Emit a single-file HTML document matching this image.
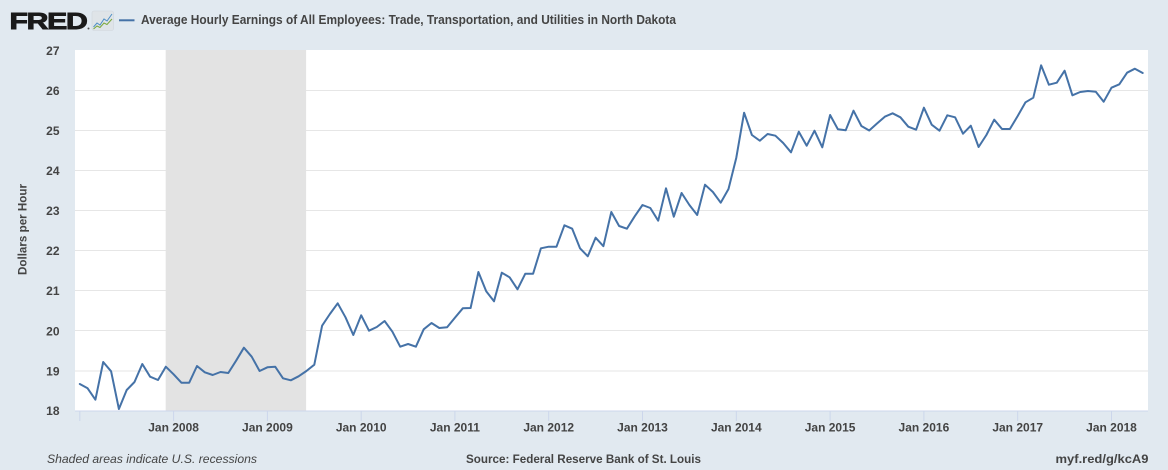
<!DOCTYPE html>
<html><head><meta charset="utf-8"><style>
html,body{margin:0;padding:0;background:#e1e9f0;}
svg{display:block;font-family:"Liberation Sans",Arial,sans-serif;}
</style></head><body>
<svg width="1168" height="470" viewBox="0 0 1168 470" xmlns="http://www.w3.org/2000/svg">
<rect x="0" y="0" width="1168" height="470" fill="#e1e9f0"/>
<!-- header -->
<text x="9.5" y="29" font-size="23" font-weight="bold" fill="#1a1a1a" stroke="#1a1a1a" stroke-width="0.9" textLength="77" lengthAdjust="spacingAndGlyphs" style="letter-spacing:-1px">FRED</text>
<circle cx="88.5" cy="28.5" r="1" fill="#555"/>
<rect x="92" y="11" width="21.5" height="19.5" rx="2" fill="#dfe4e8" stroke="#cfd6dc" stroke-width="0.6"/>
<polyline points="93.5,27 97,23 100,25 104,19 107,21 112,14" fill="none" stroke="#4d8ec5" stroke-width="1"/>
<polyline points="93.5,29 97,26 100,27.5 104,23 107,24.5 112,19" fill="none" stroke="#7aa83c" stroke-width="1"/>
<line x1="119" y1="20.3" x2="134.5" y2="20.3" stroke="#4572a7" stroke-width="2"/>
<text x="141" y="24" font-size="12.5" font-weight="bold" fill="#444" textLength="535" lengthAdjust="spacingAndGlyphs">Average Hourly Earnings of All Employees: Trade, Transportation, and Utilities in North Dakota</text>
<!-- plot area -->
<rect x="75" y="50" width="1073" height="361" fill="#ffffff"/>
<g stroke="#e6e6e6" stroke-width="1">
<line x1="75" x2="1148" y1="90.5" y2="90.5"/>
<line x1="75" x2="1148" y1="130.5" y2="130.5"/>
<line x1="75" x2="1148" y1="170.5" y2="170.5"/>
<line x1="75" x2="1148" y1="210.5" y2="210.5"/>
<line x1="75" x2="1148" y1="250.5" y2="250.5"/>
<line x1="75" x2="1148" y1="290.5" y2="290.5"/>
<line x1="75" x2="1148" y1="330.5" y2="330.5"/>
<line x1="75" x2="1148" y1="371" y2="371"/>
</g>
<rect x="165.7" y="50" width="140.4" height="361" fill="#e3e3e3"/>
<!-- x axis -->
<line x1="75" x2="1148" y1="411" y2="411" stroke="#ccd6eb" stroke-width="1"/>
<g stroke="#ccd6eb" stroke-width="1">
<line x1="79.8" x2="79.8" y1="411" y2="421"/>
<line x1="173.6" x2="173.6" y1="411" y2="421"/>
<line x1="267.4" x2="267.4" y1="411" y2="421"/>
<line x1="361.2" x2="361.2" y1="411" y2="421"/>
<line x1="454.9" x2="454.9" y1="411" y2="421"/>
<line x1="548.7" x2="548.7" y1="411" y2="421"/>
<line x1="642.5" x2="642.5" y1="411" y2="421"/>
<line x1="736.3" x2="736.3" y1="411" y2="421"/>
<line x1="830.1" x2="830.1" y1="411" y2="421"/>
<line x1="923.9" x2="923.9" y1="411" y2="421"/>
<line x1="1017.7" x2="1017.7" y1="411" y2="421"/>
<line x1="1111.5" x2="1111.5" y1="411" y2="421"/>
</g>
<g font-size="12" font-weight="bold" fill="#444" text-anchor="middle">
<text x="173.6" y="431.5">Jan 2008</text>
<text x="267.4" y="431.5">Jan 2009</text>
<text x="361.2" y="431.5">Jan 2010</text>
<text x="454.9" y="431.5">Jan 2011</text>
<text x="548.7" y="431.5">Jan 2012</text>
<text x="642.5" y="431.5">Jan 2013</text>
<text x="736.3" y="431.5">Jan 2014</text>
<text x="830.1" y="431.5">Jan 2015</text>
<text x="923.9" y="431.5">Jan 2016</text>
<text x="1017.7" y="431.5">Jan 2017</text>
<text x="1111.5" y="431.5">Jan 2018</text>
</g>
<!-- y axis labels -->
<g font-size="12" font-weight="bold" fill="#444" text-anchor="end">
<text x="59.5" y="55">27</text>
<text x="59.5" y="95">26</text>
<text x="59.5" y="135">25</text>
<text x="59.5" y="175">24</text>
<text x="59.5" y="215">23</text>
<text x="59.5" y="255">22</text>
<text x="59.5" y="295">21</text>
<text x="59.5" y="335.5">20</text>
<text x="59.5" y="375.5">19</text>
<text x="59.5" y="415">18</text>
</g>
<text transform="translate(26.5,229.5) rotate(-90)" font-size="12" font-weight="bold" fill="#444" text-anchor="middle" textLength="91" lengthAdjust="spacingAndGlyphs">Dollars per Hour</text>
<!-- series -->
<polyline fill="none" stroke="#4572a7" stroke-width="2" stroke-linejoin="round" stroke-linecap="round" points="
79.8,384 87.6,388.3 95.4,399.7 103.2,362 111.1,371.3 118.9,409 126.7,390 134.5,382 142.3,364 150.1,376.7 158.0,380 165.8,366.7
173.6,374.3 181.4,382.7 189.2,382.7 197.0,366 204.8,372.3 212.7,375 220.5,372 228.3,373 236.1,360.7 243.9,347.7 251.7,356.7 259.6,371
267.4,367.3 275.2,366.7 283.0,378.3 290.8,380.3 298.6,376.3 306.4,371 314.3,364.7 322.1,325.7 329.9,314 337.7,303.3 345.5,317.3 353.3,335
361.2,315.3 369.0,330.7 376.8,327 384.6,321 392.4,331.7 400.2,346.7 408.1,344 415.9,346.7 423.7,329.3 431.5,323 439.3,328 447.1,327.3
454.9,317.7 462.8,308.3 470.6,308 478.4,272 486.2,291.3 494.0,301.3 501.8,272.7 509.6,277.3 517.5,289.3 525.3,273.7 533.1,273.7 540.9,248.3
548.7,246.7 556.5,246.7 564.4,225.3 572.2,228.7 580.0,248.3 587.8,256.3 595.6,237.7 603.4,246.2 611.3,212 619.1,226 626.9,228.7 634.7,216.3
642.5,205 650.3,208 658.2,220.7 666.0,188.3 673.8,216.7 681.6,193 689.4,205 697.2,215 705.0,184.7 712.9,192 720.7,202.7 728.5,189
736.3,157.7 744.1,112.7 751.9,135 759.8,140.7 767.6,134 775.4,135.7 783.2,143 791.0,152.3 798.8,131.7 806.7,145.7 814.5,130.7 822.3,147.3
830.1,115 837.9,129.3 845.7,130.3 853.5,110.7 861.4,126 869.2,130.5 877.0,123.5 884.8,116.7 892.6,113.3 900.4,117.3 908.3,126.7 916.1,129.7
923.9,107.7 931.7,124.7 939.5,130.7 947.3,115.3 955.1,117.3 963.0,133.7 970.8,125.7 978.6,147 986.4,135 994.2,119.7 1002.0,129 1009.9,129
1017.7,116 1025.5,102.3 1033.3,97.7 1041.1,65.3 1048.9,84.7 1056.8,82.7 1064.6,70.7 1072.4,95.3 1080.2,92 1088.0,91 1095.8,91.7 1103.7,101.7
1111.5,87.7 1119.3,84.3 1127.1,72.7 1134.9,68.7 1142.7,73"/>
<!-- footer -->
<text x="47" y="463" font-size="12" font-style="italic" fill="#444" textLength="210" lengthAdjust="spacingAndGlyphs">Shaded areas indicate U.S. recessions</text>
<text x="466" y="463" font-size="12" font-weight="bold" fill="#444" textLength="235" lengthAdjust="spacingAndGlyphs">Source: Federal Reserve Bank of St. Louis</text>
<text x="1148.5" y="463" font-size="12" font-weight="bold" fill="#444" text-anchor="end" textLength="93" lengthAdjust="spacingAndGlyphs">myf.red/g/kcA9</text>
</svg>
</body></html>
